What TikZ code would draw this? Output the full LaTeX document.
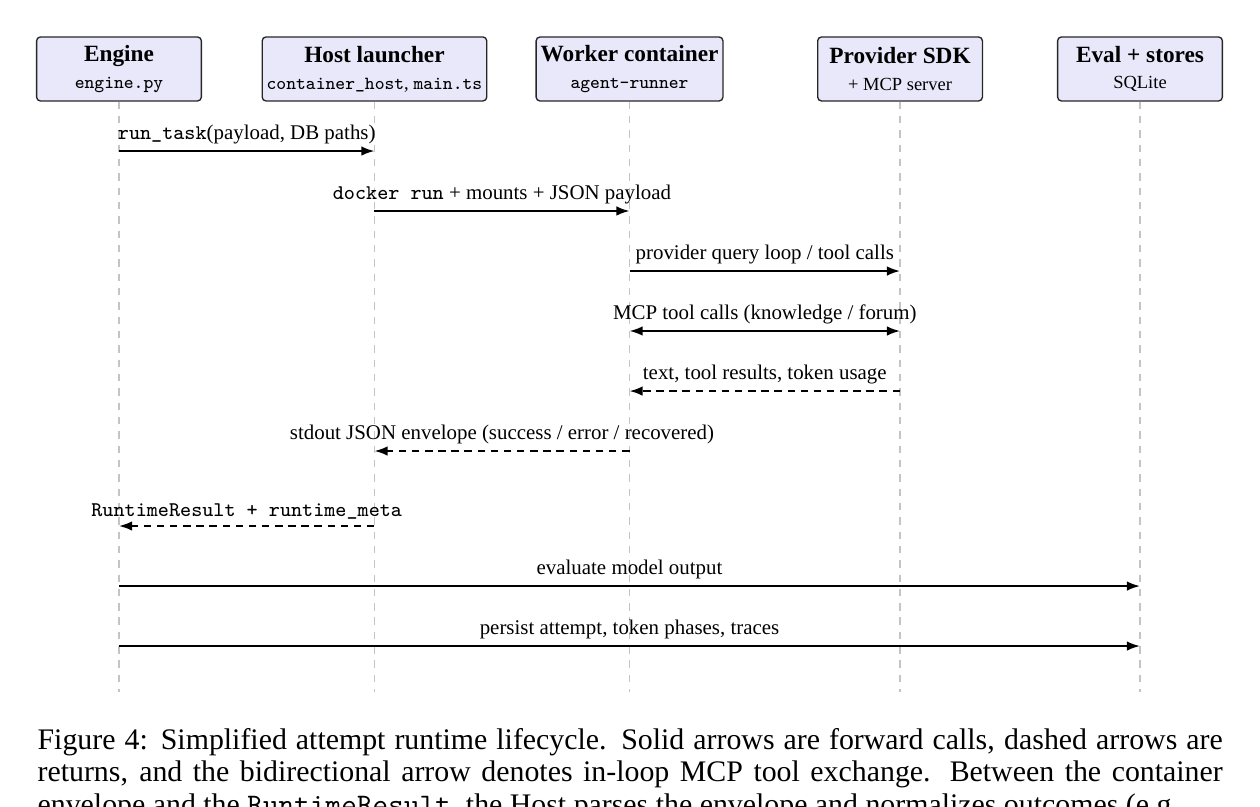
\documentclass[tikz,border=0pt]{standalone}
\usepackage{fontspec}
\setmainfont{Liberation Serif}
\usetikzlibrary{arrows.meta}
\definecolor{actorfill}{HTML}{E8E8FA}
\definecolor{lifegrey}{HTML}{C4C4C4}
\newcommand{\actname}[1]{{\fontsize{7.8}{9}\selectfont\bfseries #1}}
\newcommand{\actsub}[1]{{\fontsize{6.2}{7.5}\selectfont #1}}
\tikzset{
  actor/.style   = {draw=black!85, line width=0.45pt, rounded corners=1.3pt, fill=actorfill,
                    minimum width=1.94cm, minimum height=0.754cm, inner sep=1.5pt, align=center},
  life/.style    = {draw=lifegrey, line width=0.45pt, dash pattern=on 2.5pt off 2.3pt},
  call/.style    = {-{Latex[length=4.4pt, width=3.2pt]}, line width=0.65pt},
  ret/.style     = {call, dash pattern=on 2.5pt off 1.9pt},
  both/.style    = {{Latex[length=4.4pt, width=3.2pt]}-{Latex[length=4.4pt, width=3.2pt]}, line width=0.65pt},
  msg/.style     = {font=\fontsize{7}{8.4}\selectfont, inner sep=2pt},
  caption/.style = {anchor=base west, text width=397pt, align=justify, inner sep=0pt,
                    font={\fontsize{10}{11}\selectfont}},
}

\begin{document}
\begin{tikzpicture}[x=1cm,y=1cm]
  \useasboundingbox (0,0) rectangle (14.835,-9.49);
  % participants
  \node[actor] (engine)   at (1.401,-0.812)  {\actname{Engine}\\[-3pt]\actsub{\texttt{engine.py}}};
  \node[actor] (host)     at (4.409,-0.812)  {\actname{Host launcher}\\[-3pt]\actsub{\texttt{container\_host}, \texttt{main.ts}}};
  \node[actor] (worker)   at (7.412,-0.812)  {\actname{Worker container}\\[-3pt]\actsub{\texttt{agent-runner}}};
  \node[actor] (provider) at (10.597,-0.812) {\actname{Provider SDK}\\[-3pt]\actsub{+ MCP server}};
  \node[actor] (evals)    at (13.422,-0.812) {\actname{Eval + stores}\\[-3pt]\actsub{SQLite}};
  % message rows and lifelines
  \coordinate (lifeend) at (0,-8.148);
  \foreach \i/\y in {1/-1.778, 2/-2.484, 3/-3.191, 4/-3.897, 5/-4.604, 6/-5.310, 7/-6.193, 8/-6.900, 9/-7.606}
    \coordinate (m\i) at (0,\y);
  \foreach \a in {engine, host, worker, provider, evals}
    \draw[life] (\a.south) -- (\a |- lifeend);
  % forward calls
  \draw[call] (engine |- m1) -- (host |- m1) node[midway, above, msg] {\texttt{run\_task}(payload, DB paths)};
  \draw[call] (host |- m2) -- (worker |- m2) node[midway, above, msg] {\texttt{docker run} + mounts + JSON payload};
  \draw[call] (worker |- m3) -- (provider |- m3) node[midway, above, msg] {provider query loop / tool calls};
  \draw[both] (worker |- m4) -- (provider |- m4) node[midway, above, msg] {MCP tool calls (knowledge / forum)};
  % returns
  \draw[ret] (provider |- m5) -- (worker |- m5) node[midway, above, msg] {text, tool results, token usage};
  \draw[ret] (worker |- m6) -- (host |- m6) node[midway, above, msg] {stdout JSON envelope (success / error / recovered)};
  \draw[ret] (host |- m7) -- (engine |- m7) node[midway, above, msg] {\texttt{RuntimeResult + runtime\_meta}};
  % evaluation and persistence
  \draw[call] (engine |- m8) -- (evals |- m8) node[midway, above, msg] {evaluate model output};
  \draw[call] (engine |- m9) -- (evals |- m9) node[midway, above, msg] {persist attempt, token phases, traces};
  \node[caption] (cap) at (0.436,-8.82) {\parfillskip=0pt Figure 4: Simplified attempt runtime lifecycle. Solid arrows are forward calls, dashed arrows are\linebreak
    returns, and the bidirectional arrow denotes in-loop MCP tool exchange. Between the container\linebreak
    envelope and the \texttt{RuntimeResult}, the Host parses the envelope and normalizes outcomes (e.g.,};
\end{tikzpicture}
\end{document}
